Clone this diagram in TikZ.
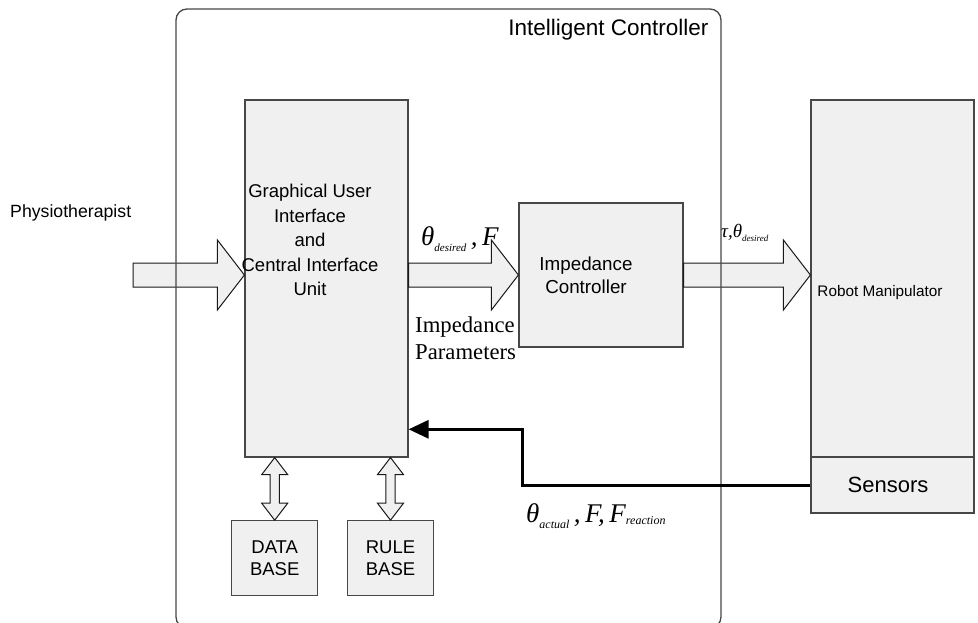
\documentclass[tikz,border=0pt]{standalone}
\usepackage{fontspec}
\setmainfont{Liberation Sans}
\newfontfamily\tnr{Liberation Serif}
\usetikzlibrary{calc,arrows.meta}

\tikzset{
  blk/.style={draw=black!72, line width=1.2pt, fill=black!6, inner sep=0pt, align=center},
  hollow/.style={draw=black!90, line width=1pt, fill=black!6, line join=miter},
  back/.style={line width=3pt, -{Triangle[length=20pt,width=18pt]}},
}

% block arrow, left to right
\newcommand\blockarrow[2]{%
  \draw[hollow] let \p1=(#1), \p2=(#2) in
    (\x1,\y1+12pt) -- (\x2-27pt,\y1+12pt) -- (\x2-27pt,\y1+35pt) -- (\x2,\y1)
    -- (\x2-27pt,\y1-35pt) -- (\x2-27pt,\y1-12pt) -- (\x1,\y1-12pt) -- cycle;}
% two-way arrow, top to bottom
\newcommand\dblarrow[2]{%
  \draw[hollow] let \p1=(#1), \p2=(#2) in
    (\x1,\y1) -- (\x1+13pt,\y1-17pt) -- (\x1+4.7pt,\y1-17pt) -- (\x1+4.7pt,\y2+17pt)
    -- (\x1+13pt,\y2+17pt) -- (\x1,\y2) -- (\x1-13pt,\y2+17pt) -- (\x1-4.7pt,\y2+17pt)
    -- (\x1-4.7pt,\y1-17pt) -- (\x1-13pt,\y1-17pt) -- cycle;}

\begin{document}
\begin{tikzpicture}[x=1pt,y=-1pt]
\useasboundingbox (0,0) rectangle (978,623);

% blocks
\node[blk, minimum width=163pt, minimum height=357pt] (gui) at (326.5,278.5) {};
\node[align=center, font=\fontsize{18.5}{24.5}\selectfont] (guitxt) at (310,240)
  {Graphical User\\Interface\\and\\Central Interface\\Unit};
\node[blk, minimum width=164pt, minimum height=144pt] (imp) at (601,275) {};
\node[align=center, font=\fontsize{18.8}{22.7}\selectfont] (imptxt) at ([xshift=-15pt]imp.center)
  {Impedance\\Controller};
\node[blk, minimum width=163pt, minimum height=357pt] (robot) at (892.5,278.5) {};
\node[font=\fontsize{15.3}{18}\selectfont] (robtxt) at (880,293) {Robot Manipulator};
\node[blk, minimum width=163pt, minimum height=56pt, font=\fontsize{22}{26}\selectfont]
  (sens) at (892.5,485) {\hspace*{-9pt}Sensors};
\node[blk, minimum width=86pt, minimum height=75pt, font=\fontsize{18.5}{21.7}\selectfont]
  (db) at (274.7,558.3) {DATA\\BASE};
\node[blk, minimum width=86pt, minimum height=75pt, font=\fontsize{18.5}{21.7}\selectfont]
  (rb) at (390.5,558.3) {RULE\\BASE};

\coordinate (src) at (133,275);
\node[anchor=west, inner sep=0pt, font=\fontsize{17.7}{21}\selectfont] (phys) at (10,213) {Physiotherapist};

% hollow arrows
\blockarrow{src}{gui.west |- imp.west}
\blockarrow{gui.east |- imp.west}{imp.west}
\blockarrow{imp.east}{robot.west |- imp.east}
\dblarrow{db.north |- gui.south}{db.north}
\dblarrow{rb.north |- gui.south}{rb.north}

% controller frame
\draw[black!72, line width=1.3pt, rounded corners=11pt] (176,9) rectangle (721,628);
\node[anchor=east, font=\fontsize{22.5}{26}\selectfont] (ctrl) at (712,30) {Intelligent Controller};

% feedback
\coordinate (bend) at (522,429.3);
\draw[back] (sens.west) -| (bend) -- (gui.east |- bend);

% signal labels
\node[anchor=base west, inner sep=0pt, font=\tnr\fontsize{27}{27}\selectfont] (lbdes) at (421,245)
  {\itshape θ\raisebox{-6pt}{\fontsize{11}{11}\selectfont desired}\,,\,F};
\node[anchor=north west, align=left, inner sep=0pt, font=\tnr\fontsize{22.7}{27}\selectfont] (lbpar) at (415,317)
  {Impedance\\Parameters};
\node[anchor=base west, inner sep=0pt, font=\tnr\fontsize{19}{19}\selectfont] (lbtau) at (721,237)
  {\itshape τ,θ\raisebox{-4pt}{\fontsize{9}{9}\selectfont desired}};
\node[anchor=base west, inner sep=0pt, font=\tnr\fontsize{27}{27}\selectfont] (lbact) at (526,522)
  {\itshape θ\raisebox{-6pt}{\fontsize{12}{12}\selectfont actual}\,,\,F,\,F\raisebox{-2pt}{\fontsize{12}{12}\selectfont reaction}};
\end{tikzpicture}
\end{document}
